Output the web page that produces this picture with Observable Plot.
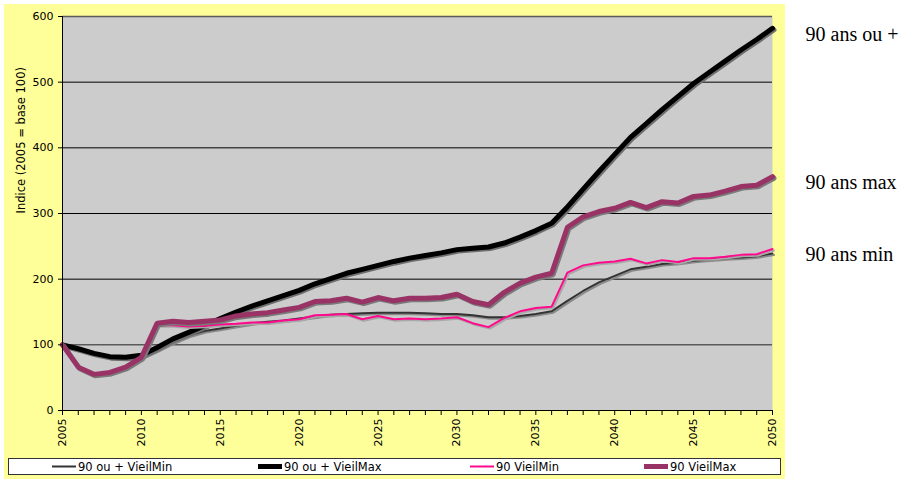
<!DOCTYPE html>
<html>
<head>
<meta charset="utf-8">
<script src="https://cdn.jsdelivr.net/npm/d3@7"></script>
<script src="https://cdn.jsdelivr.net/npm/@observablehq/plot@0.6"></script>
<style>
  body { margin: 0; background: #fff; }
  #wrap { position: relative; width: 908px; height: 481px; overflow: hidden; font-family: "DejaVu Sans", Verdana, sans-serif; }
  #panel { position: absolute; left: 4px; top: 4px; width: 781px; height: 475px; background: #ffff99; }
  #chart { position: absolute; left: 0; top: 0; }
  #legend { position: absolute; left: 8px; top: 458px; width: 771px; height: 15px; background: #fff; border: 1px solid #333; }
  .item { position: absolute; top: 0; height: 15px; display: flex; align-items: center; font-size: 11.5px; color: #000; white-space: nowrap; }
  .item svg { margin-right: 2px; }
</style>
</head>
<body>
<div id="wrap">
  <div id="panel"></div>
  <div id="chart"></div>
  <div id="legend"></div>
</div>
<script>
// Years on the x axis
const years = d3.range(2005, 2051);

// Index values (2005 = 100), one per year 2005..2050
const ouPlusVieilMin = [100, 94, 88, 83, 80, 81, 92, 104, 114, 121, 125, 129, 133, 135, 137, 140, 143, 146, 147, 148, 149, 149, 149, 148, 147, 147, 145, 142, 142, 144, 147, 151, 167, 182, 195, 205, 215, 219, 223, 225, 228, 230, 232, 233, 235, 239];
const ouPlusVieilMax = [100, 94, 87, 82, 81, 84, 96, 109, 119, 129, 140, 150, 159, 167, 175, 183, 193, 201, 209, 215, 221, 227, 232, 236, 240, 245, 247, 249, 255, 264, 274, 285, 310, 337, 364, 390, 416, 437, 458, 478, 498, 515, 532, 549, 565, 582];
const vieilMin90 = [100, 66, 55, 58, 66, 81, 130, 130, 128, 129, 131, 132, 134, 134, 137, 139, 145, 146, 147, 139, 144, 139, 140, 139, 140, 142, 133, 127, 141, 151, 156, 158, 210, 221, 225, 227, 231, 224, 229, 226, 232, 232, 234, 237, 238, 246];
const vieilMax90 = [100, 66, 55, 58, 66, 81, 133, 136, 134, 136, 138, 144, 147, 149, 153, 157, 166, 167, 171, 165, 172, 167, 171, 171, 172, 177, 166, 161, 180, 194, 203, 209, 279, 295, 303, 308, 317, 309, 318, 316, 326, 328, 334, 341, 343, 356];

const seriesNames = ["90 ou + VieilMin", "90 ou + VieilMax", "90 VieilMin", "90 VieilMax"];
const seriesValues = [ouPlusVieilMin, ouPlusVieilMax, vieilMin90, vieilMax90];

// Axis ticks
const yTicks = [0, 100, 200, 300, 400, 500, 600];
const yTitle = "Indice (2005 = base 100)";

// Labels at the right end of the series
const endLabels = ["90 ans ou +", "90 ans max", "90 ans min"];
const endLabelSeries = ["90 ou + VieilMax", "90 VieilMax", "90 VieilMin"];

// Line styles per series
const styles = {
  "90 ou + VieilMin": {stroke: "#333333", width: 2, shadow: "#8a8a8a"},
  "90 ou + VieilMax": {stroke: "#000000", width: 5, shadow: "#6e6e6e"},
  "90 VieilMin":      {stroke: "#ff0a8c", width: 2, shadow: "#a8a8a8"},
  "90 VieilMax":      {stroke: "#993366", width: 5, shadow: "#7a7a7a"}
};

const rows = seriesNames.flatMap((name, i) =>
  years.map((year, j) => ({series: name, year, value: seriesValues[i][j]}))
);

const endRows = endLabels.map((text, i) => {
  const k = seriesNames.indexOf(endLabelSeries[i]);
  return {text, year: years[years.length - 1], value: seriesValues[k][years.length - 1]};
});

const lineMarks = seriesNames.flatMap(name => {
  const s = styles[name];
  const data = rows.filter(d => d.series === name);
  return [
    Plot.line(data, {x: "year", y: "value", stroke: s.shadow, strokeWidth: s.width, dx: 1.5, dy: 1.5, strokeLinejoin: "miter"}),
    Plot.line(data, {x: "year", y: "value", stroke: s.stroke, strokeWidth: s.width, strokeLinejoin: "miter"})
  ];
});

const chart = Plot.plot({
  width: 908,
  height: 455,
  marginLeft: 62,
  marginRight: 136,
  marginTop: 16,
  marginBottom: 45,
  style: {fontFamily: "DejaVu Sans, Verdana, sans-serif", fontSize: "11px", background: "transparent", overflow: "visible", color: "#000"},
  x: {domain: [2005, 2050], axis: null},
  y: {domain: [0, 600], axis: null},
  marks: [
    Plot.frame({fill: "#cccccc", stroke: null}),
    Plot.ruleY(yTicks.filter(v => v !== 0 && v !== 100 && v !== 600), {stroke: "#000", strokeWidth: 1}),
    Plot.ruleY([100, 600], {stroke: "#5a5a5a", strokeWidth: 1.5}),
    ...lineMarks,
    Plot.ruleX([2005], {stroke: "#000", strokeWidth: 1}),
    Plot.ruleY([0], {stroke: "#000", strokeWidth: 1}),
    Plot.axisY({ticks: yTicks, tickSize: 4, tickPadding: 5, label: null, fontSize: 11}),
    Plot.axisX({ticks: years, tickFormat: d => d % 5 === 0 ? String(d) : "", tickSize: 5, tickPadding: 3, tickRotate: -90, label: null, fontSize: 11}),
    Plot.text([yTitle], {text: d => d, frameAnchor: "left", dx: -41, rotate: -90, fontSize: 11.5}),
    Plot.text(endRows, {x: "year", y: "value", text: "text", dx: 33, dy: -2, textAnchor: "start", lineAnchor: "top", fontFamily: "Liberation Serif, Times New Roman, serif", fontSize: 20})
  ]
});
document.getElementById("chart").appendChild(chart);

// Legend below the chart
const legendPos = [43, 249, 461, 635];
const legend = document.getElementById("legend");
seriesNames.forEach((name, i) => {
  const s = styles[name];
  const item = document.createElement("div");
  item.className = "item";
  item.style.left = legendPos[i] + "px";
  const w = 24;
  item.innerHTML =
    `<svg width="${w}" height="15"><line x1="0" x2="${w}" y1="7.5" y2="7.5" stroke="${s.stroke}" stroke-width="${s.width}"/></svg><span>${name}</span>`;
  legend.appendChild(item);
});
</script>
</body>
</html>
